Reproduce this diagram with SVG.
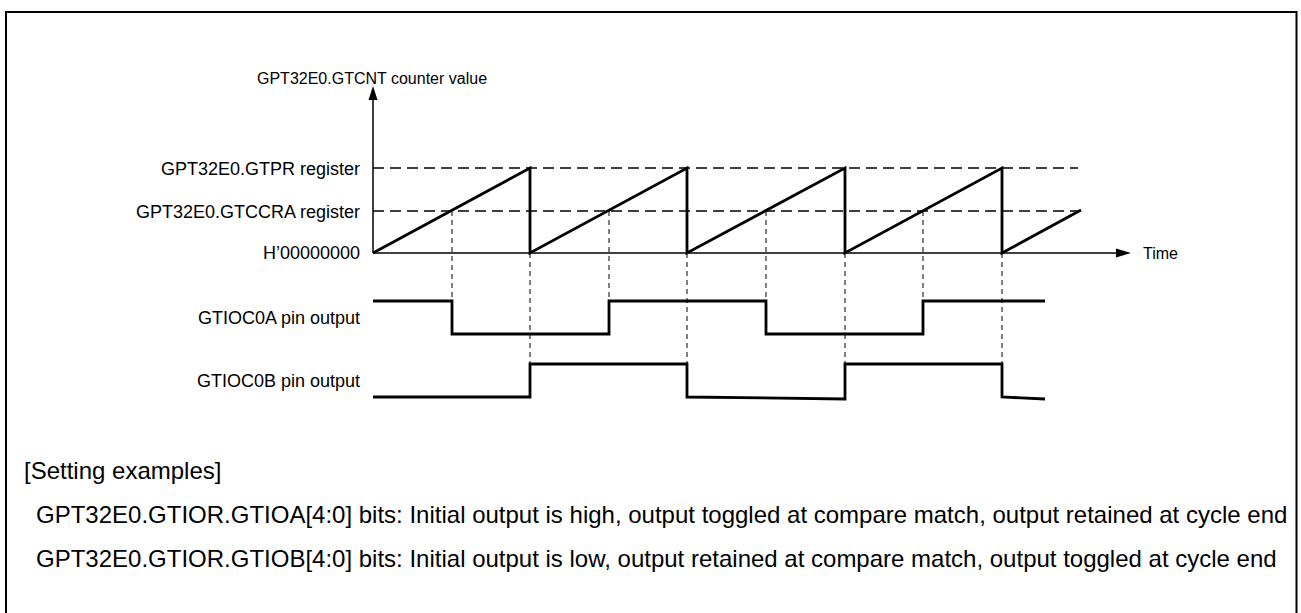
<svg xmlns="http://www.w3.org/2000/svg" width="1301" height="613" viewBox="0 0 1301 613">
<style>
  .t { font-family: "Liberation Sans", Arial, sans-serif; fill: #000; }
  .lbl { font-size: 18px; text-anchor: end; }
  .note { font-size: 24px; }
  .hd { stroke: #000; stroke-width: 1.3; stroke-dasharray: 11 6; fill: none; }
  .vd { stroke: #000; stroke-width: 1; stroke-dasharray: 5 4; fill: none; }
  .wave { stroke: #000; stroke-width: 2.8; fill: none; stroke-linejoin: miter; }
  .axis { stroke: #000; stroke-width: 1.5; fill: none; }
</style>
<rect width="1301" height="613" fill="#fff"/>
<rect id="frame" x="6" y="12" width="1290.5" height="640" fill="none" stroke="#000" stroke-width="2"/>

<g id="guides">
  <line class="hd" x1="373" y1="168" x2="1078" y2="168"/>
  <line class="hd" x1="373" y1="211" x2="1078" y2="211"/>
  <line class="vd" x1="452" y1="211" x2="452" y2="301"/>
  <line class="vd" x1="609" y1="211" x2="609" y2="301"/>
  <line class="vd" x1="766" y1="211" x2="766" y2="301"/>
  <line class="vd" x1="923" y1="211" x2="923" y2="301"/>
  <line class="vd" x1="530" y1="253" x2="530" y2="364"/>
  <line class="vd" x1="687" y1="253" x2="687" y2="364"/>
  <line class="vd" x1="845" y1="253" x2="845" y2="364"/>
  <line class="vd" x1="1002" y1="253" x2="1002" y2="364"/>
</g>

<g id="axes">
  <line class="axis" x1="373" y1="253" x2="373" y2="98"/>
  <polygon points="373,86 368.5,100 377.5,100" fill="#000"/>
  <line class="axis" x1="373" y1="253" x2="1118" y2="253"/>
  <polygon points="1131,253 1116,248.5 1116,257.5" fill="#000"/>
</g>

<g id="counter">
  <path class="wave" d="M373,253 L530,168 L530,253 L687,168 L687,253 L845,168 L845,253 L1002,168 L1002,253 L1081,210"/>
</g>

<g id="gtioc0a">
  <path class="wave" d="M373,301 H452 V334 H609 V301 H766 V334 H923 V301 H1045"/>
</g>

<g id="gtioc0b">
  <path class="wave" d="M373,397 H530 V364 H687 V397 L845,399 V364 H1002 V397 L1045,399"/>
</g>

<g id="labels">
  <text class="t" x="257" y="84" font-size="16">GPT32E0.GTCNT counter value</text>
  <text class="t lbl" x="360" y="175">GPT32E0.GTPR register</text>
  <text class="t lbl" x="360" y="218">GPT32E0.GTCCRA register</text>
  <text class="t lbl" x="360" y="259">H’00000000</text>
  <text class="t lbl" x="360" y="324">GTIOC0A pin output</text>
  <text class="t lbl" x="360" y="387">GTIOC0B pin output</text>
  <text class="t" x="1143" y="259" font-size="16">Time</text>
</g>

<g id="notes">
  <text class="t note" x="24" y="479">[Setting examples]</text>
  <text class="t note" x="36" y="523">GPT32E0.GTIOR.GTIOA[4:0] bits: Initial output is high, output toggled at compare match, output retained at cycle end</text>
  <text class="t note" x="36" y="567">GPT32E0.GTIOR.GTIOB[4:0] bits: Initial output is low, output retained at compare match, output toggled at cycle end</text>
</g>
</svg>
